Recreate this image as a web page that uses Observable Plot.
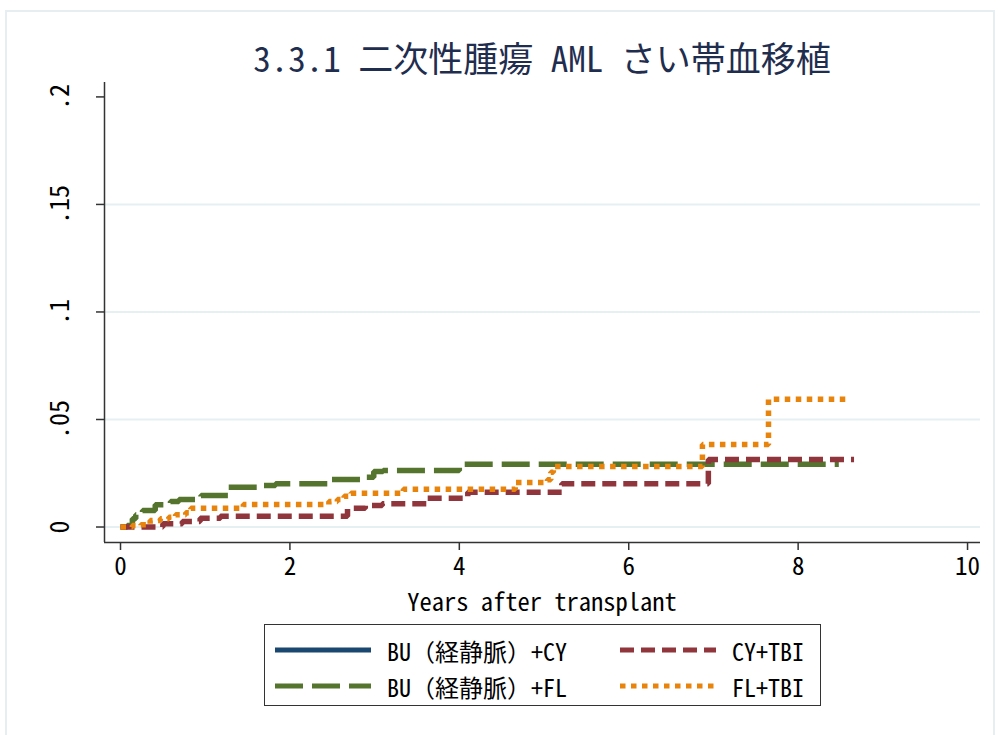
<!DOCTYPE html>
<html>
<head>
<meta charset="utf-8">
<script src="https://cdn.jsdelivr.net/npm/d3@7"></script>
<script src="https://cdn.jsdelivr.net/npm/@observablehq/plot@0.6"></script>
<style>
  body { margin: 0; background: #fff; }
  #wrap { position: relative; width: 998px; height: 735px; overflow: hidden; background: #fff;
          font-family: "Noto Sans CJK JP", sans-serif; }
  .hw { font-feature-settings: "hwid"; }
  #frame { position: absolute; left: 5px; top: 10px; width: 990px; height: 730px; border: 2px solid #e6eef1; box-sizing: border-box; }
  #title { position: absolute; left: 104px; width: 876px; top: 31px; text-align: center; font-size: 35px; color: #1f2d4e; white-space: nowrap; }
  #xlabel { position: absolute; left: 104px; width: 876px; top: 588px; line-height: 25px; text-align: center; font-size: 24.5px; color: #000; font-feature-settings: "hwid"; }
  #chart { position: absolute; left: 0; top: 0; }
  #legend { position: absolute; left: 264px; top: 624px; width: 557px; height: 82px; border: 1.5px solid #333; box-sizing: border-box; }
  .item { position: absolute; height: 30px; display: flex; align-items: center; font-size: 24px; color: #000; white-space: nowrap; }
  .item svg { margin-right: 16px; }
</style>
</head>
<body>
<div id="wrap">
  <div id="frame"></div>
  <div id="chart"></div>
  <div id="title"></div>
  <div id="xlabel"></div>
  <div id="legend"></div>
</div>
<script>
const titleText = "3.3.1 二次性腫瘍 AML さい帯血移植";
const xLabel = "Years after transplant";
const seriesNames = ["BU（経静脈）+CY", "BU（経静脈）+FL", "CY+TBI", "FL+TBI"];
const seriesColors = ["#1a476f", "#55752f", "#90353b", "#e8830c"];
const seriesDash = ["none", "28,9", "14,7", "5.5,5.5"];

const xTicks = [0, 2, 4, 6, 8, 10];
const yTicks = [0, 0.05, 0.1, 0.15, 0.2];
const yGrid = [0, 0.05, 0.1, 0.15];

// BU(IV)+CY : no visible curve in the chart
const buCyT = [];
const buCyV = [];
// BU(IV)+FL
const buFlT = [0, 0.08, 0.14, 0.18, 0.26, 0.41, 0.59, 0.69, 0.95, 1.27, 1.69, 1.83, 2.46, 2.89, 2.99, 3.1, 4.0, 8.48];
const buFlV = [0, 0.0007, 0.0039, 0.0057, 0.0077, 0.0103, 0.0119, 0.0128, 0.0147, 0.0185, 0.0193, 0.0201, 0.0221, 0.0231, 0.0258, 0.0263, 0.0292, 0.0292];
// CY+TBI
const cyTbiT = [0, 0.5, 0.73, 0.94, 1.18, 2.68, 2.89, 3.09, 3.62, 4.1, 5.21, 6.94, 8.66];
const cyTbiV = [0, 0.0015, 0.0026, 0.0041, 0.005, 0.0087, 0.010, 0.0108, 0.0134, 0.0162, 0.0201, 0.0314, 0.0314];
// FL+TBI
const flTbiT = [0, 0.14, 0.24, 0.35, 0.47, 0.57, 0.65, 0.77, 0.83, 1.45, 2.46, 2.56, 2.64, 2.72, 3.34, 4.66, 5.04, 5.08, 5.11, 6.87, 7.65, 8.6];
const flTbiV = [0, 0.0007, 0.001, 0.003, 0.0038, 0.0045, 0.0057, 0.0066, 0.0087, 0.0105, 0.0119, 0.0128, 0.0143, 0.0157, 0.0176, 0.0207, 0.022, 0.0255, 0.0281, 0.0384, 0.0594, 0.0594];

const seriesT = [buCyT, buFlT, cyTbiT, flTbiT];
const seriesV = [buCyV, buFlV, cyTbiV, flTbiV];

const xDomain = [-0.189, 10.153];
const yDomain = [-0.0072, 0.2067];

const fmt = d => d === 0 ? "0" : d3.format(".2~f")(d).replace(/^0/, "");
const FONT = '"Noto Sans CJK JP", sans-serif';

const lineMarks = seriesT.map((T, i) =>
  Plot.line(T.map((t, j) => ({t, v: seriesV[i][j]})), {
    x: "t", y: "v", curve: "step-after",
    stroke: seriesColors[i], strokeWidth: 5.5,
    strokeDasharray: seriesDash[i], strokeLinecap: "butt", strokeLinejoin: "miter"
  })
);

const chart = Plot.plot({
  width: 998, height: 620,
  marginLeft: 104, marginRight: 18, marginTop: 82, marginBottom: 78,
  style: {fontFamily: FONT, fontSize: "26px", fontFeatureSettings: '"hwid"', color: "#000", background: "transparent"},
  x: {domain: xDomain},
  y: {domain: yDomain},
  marks: [
    Plot.gridY(yGrid, {stroke: "#e6eff1", strokeOpacity: 1, strokeWidth: 2}),
    Plot.ruleX([xDomain[0]], {stroke: "#333", strokeWidth: 1.5}),
    Plot.ruleY([yDomain[0]], {stroke: "#333", strokeWidth: 1.5}),
    Plot.axisX({ticks: xTicks, tickSize: 8, tickPadding: 7, tickFormat: d => String(d), stroke: "#333", strokeWidth: 1.5, fontSize: 25, label: null}),
    Plot.axisY({ticks: yTicks, tickSize: 8, tickPadding: 28, tickRotate: -90, tickFormat: fmt, stroke: "#333", strokeWidth: 1.5, fontSize: 26, label: null}),
    ...lineMarks
  ]
});
document.getElementById("chart").appendChild(chart);
document.getElementById("xlabel").textContent = xLabel;

// render text with half-width forms for ASCII only (keep full-width parens)
function fillMixed(el, text) {
  const parts = text.match(/[\x20-\x7e]+|[^\x20-\x7e]+/g) || [];
  parts.forEach(p => {
    const s = document.createElement("span");
    if (/^[\x20-\x7e]+$/.test(p)) s.className = "hw";
    s.textContent = p;
    el.appendChild(s);
  });
}

// legend
const legend = document.getElementById("legend");
const pos = [[10, 10], [10, 46], [355, 10], [355, 46]];
seriesNames.forEach((name, i) => {
  const div = document.createElement("div");
  div.className = "item";
  div.style.left = pos[i][0] + "px";
  div.style.top = pos[i][1] + "px";
  const svg = d3.create("svg").attr("width", 96).attr("height", 12);
  svg.append("line").attr("x1", 0).attr("x2", 96).attr("y1", 6).attr("y2", 6)
    .attr("stroke", seriesColors[i]).attr("stroke-width", 5)
    .attr("stroke-dasharray", seriesDash[i]);
  div.appendChild(svg.node());
  const span = document.createElement("span");
  fillMixed(span, name);
  div.appendChild(span);
  legend.appendChild(div);
});
fillMixed(document.getElementById("title"), titleText);
</script>
</body>
</html>
